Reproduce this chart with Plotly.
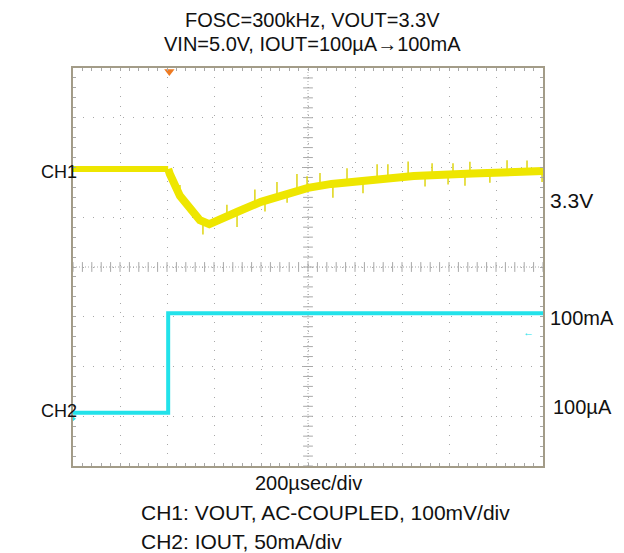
import numpy as np
import plotly.graph_objects as go

# ---------------- data ----------------
# time in microseconds, 200 us/div, 10 divisions
ch1_t = [0, 405, 412, 455, 500, 540, 580, 620, 700, 800, 910, 1000, 1100, 1250, 1450, 1700, 2000]
# CH1: VOUT deviation (mV), AC-coupled, 100 mV/div
ch1_mv = [0, 0, -10, -54, -82, -103, -111, -104, -86, -66, -50, -38, -30, -22, -14, -9, -4]
# noise spikes on CH1 (time us, excursion mV from trace)
spike_t = [455, 553, 655, 698, 774, 817, 868, 911, 953, 996, 1051, 1106, 1166, 1234,
           1294, 1340, 1426, 1498, 1528, 1596, 1617, 1668, 1689, 1774, 1847, 1932, 1996]
spike_d = [22, -26, 24, -30, 30, -22, 30, -18, 34, 24, 26, -28, 28, -26,
           30, 28, 30, -22, 24, -20, 22, -24, 24, -20, 24, 22, -22]
# CH2: IOUT (mA), 50 mA/div
ch2_t = [0, 405, 2000]
ch2_ma = [0.1, 100, 100]

CH1_SCALE, CH1_OFFSET = 100.0, 1.97    # mV/div, divisions
CH2_SCALE, CH2_OFFSET = 50.0, -2.93    # mA/div, divisions
TRIG_T = 410

YELLOW = "#EEE600"
CYAN = "#22E2EA"
GRID = "#A8A8A8"
FRAME = "#A39C88"
FONT = "Liberation Sans, Arial, sans-serif"

ch1_y = [CH1_OFFSET + v / CH1_SCALE for v in ch1_mv]
ch2_y = [CH2_OFFSET + v / CH2_SCALE for v in ch2_ma]

base = np.interp(spike_t, ch1_t, ch1_mv)
sx, sy = [], []
for t, b, d in zip(spike_t, base, spike_d):
    sx += [t, t, None]
    sy += [CH1_OFFSET + b / CH1_SCALE, CH1_OFFSET + (b + d) / CH1_SCALE, None]

fig = go.Figure()

# center crosshair tick marks (graticule decoration)
minor_y = np.arange(-4, 4.001, 0.2)
minor_x = np.arange(0, 2000.1, 40)
fig.add_trace(go.Scatter(x=[1000] * len(minor_y), y=minor_y, mode="markers",
                         marker=dict(symbol="line-ew", size=7, line=dict(width=1, color=GRID)),
                         hoverinfo="skip", showlegend=False))
fig.add_trace(go.Scatter(x=minor_x, y=[0] * len(minor_x), mode="markers",
                         marker=dict(symbol="line-ns", size=7, line=dict(width=1, color=GRID)),
                         hoverinfo="skip", showlegend=False))

# CH1 trace: thinner before the load step, wider noise band after it
fig.add_trace(go.Scatter(x=sx, y=sy, mode="lines", line=dict(color="#DCD200", width=1.4),
                         hoverinfo="skip", showlegend=False))
fig.add_trace(go.Scatter(x=ch1_t[:2], y=ch1_y[:2], mode="lines",
                         line=dict(color=YELLOW, width=6), showlegend=False))
fig.add_trace(go.Scatter(x=ch1_t[1:], y=ch1_y[1:], mode="lines",
                         line=dict(color=YELLOW, width=8), showlegend=False))
# CH2 trace
fig.add_trace(go.Scatter(x=ch2_t, y=ch2_y, mode="lines", line=dict(color=CYAN, width=4, shape="hv"),
                         showlegend=False))

# trigger marker
fig.add_trace(go.Scatter(x=[TRIG_T], y=[3.93], mode="markers",
                         marker=dict(symbol="triangle-down", size=9, color="#EE7A22"),
                         cliponaxis=False, showlegend=False))
# CH2 ground markers
fig.add_trace(go.Scatter(x=[0], y=[CH2_OFFSET - 0.12], mode="markers",
                         marker=dict(symbol="triangle-right", size=6, color=CYAN),
                         cliponaxis=False, showlegend=False))

axis_common = dict(showline=True, linecolor=FRAME, linewidth=2, mirror="allticks",
                   ticks="inside", ticklen=3, tickcolor=GRID, showticklabels=False,
                   zeroline=False, gridcolor=GRID, gridwidth=1)
fig.update_xaxes(range=[0, 2000], dtick=200, tick0=0, griddash="1px,8.4px",
                 minor=dict(dtick=40, ticks="inside", ticklen=3, tickcolor=GRID, showgrid=False),
                 **axis_common)
fig.update_yaxes(range=[-4, 4], dtick=1, tick0=0, griddash="1px,8.95px",
                 minor=dict(dtick=0.2, ticks="inside", ticklen=3, tickcolor=GRID, showgrid=False),
                 **axis_common)

# center crosshair lines
fig.add_shape(type="line", x0=1000, x1=1000, y0=-4, y1=4, layer="below",
              line=dict(color=GRID, width=1, dash="1px,2px"))
fig.add_shape(type="line", x0=0, x1=2000, y0=0, y1=0, layer="below",
              line=dict(color=GRID, width=1, dash="1px,2px"))

def txt(s, x, y, xanchor="center", size=20):
    fig.add_annotation(text=s, x=x, y=y, xref="paper", yref="paper", xanchor=xanchor,
                       yanchor="middle", showarrow=False, borderpad=0,
                       font=dict(family=FONT, size=size, color="#111111"))

# paper coords: plot area 73..543 x, 68..466 y (page pixels)
def px(xp):
    return (xp - 73) / 470.0
def py(yp):
    return (466 - yp) / 398.0

txt("FOSC=300kHz, VOUT=3.3V", px(312), py(20), size=20)
txt("VIN=5.0V, IOUT=100µA→100mA", px(312), py(44), size=20)
txt("CH1", px(40), py(172), "left", size=18)
txt("CH2", px(40), py(411), "left", size=18)
txt("3.3V", px(549), py(200), "left", size=21)
txt("100mA", px(549), py(318), "left", size=20)
txt("100µA", px(552), py(407), "left", size=20)
txt("200µsec/div", px(308), py(483))
txt("CH1: VOUT, AC-COUPLED, 100mV/div", px(140), py(513), "left", size=21)
txt("CH2: IOUT, 50mA/div", px(140), py(541), "left", size=21)
fig.add_annotation(text="←", x=px(536), y=py(332), xref="paper", yref="paper",
                   showarrow=False, font=dict(family=FONT, size=11, color=CYAN))

# the page body adds an 8px margin, so the figure is 8px smaller than the window
fig.update_layout(width=616, height=545, margin=dict(l=65, r=81, t=60, b=87),
                  plot_bgcolor="white", paper_bgcolor="white", showlegend=False)

fig.write_html("out.html")
